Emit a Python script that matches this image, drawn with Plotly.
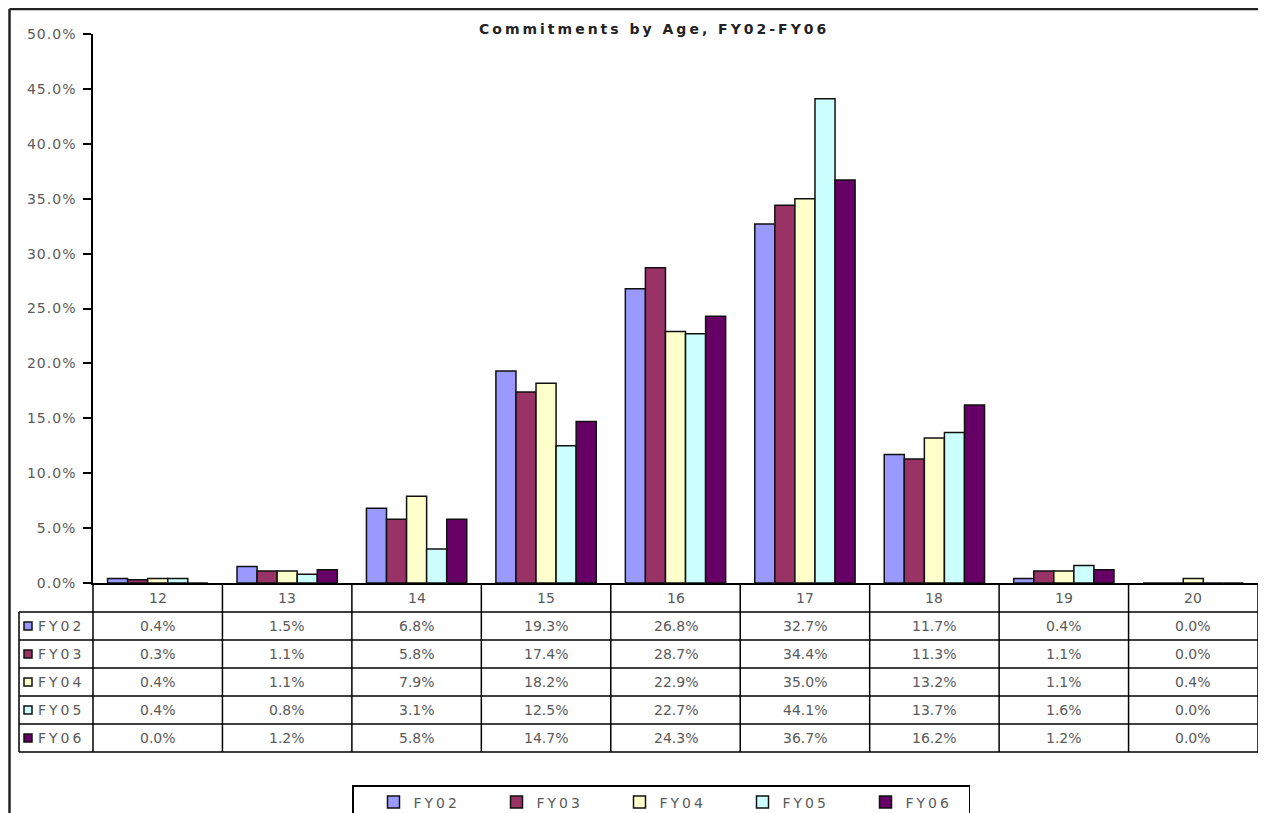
import plotly.graph_objects as go

AGES = ['12', '13', '14', '15', '16', '17', '18', '19', '20']
SERIES = ['FY02', 'FY03', 'FY04', 'FY05', 'FY06']
FY02 = [0.4, 1.5, 6.8, 19.3, 26.8, 32.7, 11.7, 0.4, 0.0]
FY03 = [0.3, 1.1, 5.8, 17.4, 28.7, 34.4, 11.3, 1.1, 0.0]
FY04 = [0.4, 1.1, 7.9, 18.2, 22.9, 35.0, 13.2, 1.1, 0.4]
FY05 = [0.4, 0.8, 3.1, 12.5, 22.7, 44.1, 13.7, 1.6, 0.0]
FY06 = [0.0, 1.2, 5.8, 14.7, 24.3, 36.7, 16.2, 1.2, 0.0]
Y_TICKS = [0, 5, 10, 15, 20, 25, 30, 35, 40, 45, 50]
TITLE = 'Commitments by Age, FY02-FY06'

values = {'FY02': FY02, 'FY03': FY03, 'FY04': FY04, 'FY05': FY05, 'FY06': FY06}
colors = {'FY02': '#9999FF', 'FY03': '#993366', 'FY04': '#FFFFCC',
          'FY05': '#CCFFFF', 'FY06': '#660066'}

# page body has an 8px margin, so the figure starts at (8, 8) in the window
OFF = 8
W, H = 1258, 805
FONT = 'DejaVu Sans'
GREY = '#5a5a5a'


def px(x):
    # window pixel -> paper fraction
    return (x - OFF) / W


def py(y):
    return 1 - (y - OFF) / H


def spaced(s, sp=1):
    return f'<span style="letter-spacing:{sp}px">{s}</span>'


# plot area / table geometry (window pixels)
PLOT_L, PLOT_R = 93, 1258
PLOT_T, PLOT_B = 34, 583
LABEL_L = 19
ROW_Y = [583, 612, 640, 668, 696, 724, 752]

fig = go.Figure()

for name in SERIES:
    fig.add_trace(go.Bar(
        x=AGES,
        y=values[name],
        name=spaced(name, 3),
        marker_color=colors[name],
        marker_line=dict(color='#111111', width=1.5),
    ))

shapes = []
annotations = []
line_k = dict(color='black', width=1.5)

# outer chart frame (only top and left edges fall inside the window)
shapes.append(dict(type='line', xref='paper', yref='paper',
                   x0=px(9.5), x1=1, y0=py(9), y1=py(9),
                   line=dict(color='#222222', width=2.5)))
shapes.append(dict(type='line', xref='paper', yref='paper',
                   x0=px(9.5), x1=px(9.5), y0=py(9), y1=0,
                   line=dict(color='#222222', width=2.5)))

# data table grid
col_w = (PLOT_R - PLOT_L) / len(AGES)
for i in range(len(AGES) + 1):
    xx = PLOT_L + i * col_w
    shapes.append(dict(type='line', xref='paper', yref='paper',
                       x0=px(xx), x1=px(xx), y0=py(ROW_Y[0]), y1=py(ROW_Y[-1]),
                       line=line_k))
shapes.append(dict(type='line', xref='paper', yref='paper',
                   x0=px(LABEL_L), x1=px(LABEL_L), y0=py(ROW_Y[1]), y1=py(ROW_Y[-1]),
                   line=line_k))
for yy in ROW_Y[1:]:
    shapes.append(dict(type='line', xref='paper', yref='paper',
                       x0=px(LABEL_L), x1=px(PLOT_R), y0=py(yy), y1=py(yy),
                       line=line_k))

cell_font = dict(family=FONT, size=14, color=GREY)

# header row (ages) - placed on the category axis by index
for i, age in enumerate(AGES):
    annotations.append(dict(x=i, xref='x', y=py((ROW_Y[0] + ROW_Y[1]) / 2), yref='paper',
                            xanchor='center', yanchor='middle',
                            text=age, showarrow=False, font=cell_font))

# series rows
for r, name in enumerate(SERIES):
    yc = (ROW_Y[r + 1] + ROW_Y[r + 2]) / 2
    shapes.append(dict(type='rect', xref='paper', yref='paper',
                       x0=px(24), x1=px(32), y0=py(yc - 4), y1=py(yc + 4),
                       fillcolor=colors[name], line=dict(color='#111111', width=1.5)))
    annotations.append(dict(x=px(36), xref='paper', y=py(yc), yref='paper',
                            xanchor='left', yanchor='middle',
                            text=spaced(name, 3), showarrow=False, font=cell_font))
    for i, v in enumerate(values[name]):
        annotations.append(dict(x=i, xref='x', y=py(yc), yref='paper',
                                xanchor='center', yanchor='middle',
                                text=f'{v:.1f}%', showarrow=False, font=cell_font))

# title
annotations.append(dict(x=px(654), y=py(29), xref='paper', yref='paper',
                        xanchor='center', yanchor='middle',
                        text=spaced(TITLE, 3), showarrow=False,
                        font=dict(family=FONT, size=14, color='#222222', weight='bold')))

fig.update_xaxes(
    type='category',
    categoryorder='array', categoryarray=AGES,
    range=[-0.5, len(AGES) - 0.5],
    domain=[px(PLOT_L), px(PLOT_R)],
    showticklabels=False,
    ticks='',
    showline=True, linecolor='black', linewidth=1.5,
    showgrid=False,
)

fig.update_yaxes(
    domain=[py(PLOT_B), py(PLOT_T)],
    range=[0, 50],
    tickvals=Y_TICKS,
    ticktext=[spaced(f'{t:.1f}%') for t in Y_TICKS],
    ticks='outside', ticklen=8, tickwidth=1.5, tickcolor='black',
    ticklabelstandoff=4,
    showline=True, linecolor='black', linewidth=1.5,
    showgrid=False, zeroline=False,
    tickfont=dict(family=FONT, size=14, color=GREY),
)

fig.update_layout(
    width=W, height=H,
    margin=dict(l=0, r=0, t=0, b=0, autoexpand=False),
    paper_bgcolor='white',
    plot_bgcolor='white',
    barmode='group',
    bargap=0.225,
    bargroupgap=0,
    shapes=shapes,
    annotations=annotations,
    showlegend=True,
    legend=dict(
        orientation='h',
        x=px(352), y=py(785), xanchor='left', yanchor='top',
        bordercolor='black', borderwidth=1.5,
        indentation=20,
        entrywidth=58,
        font=dict(family=FONT, size=14, color=GREY),
        traceorder='normal',
    ),
)

fig.write_html("out.html")
